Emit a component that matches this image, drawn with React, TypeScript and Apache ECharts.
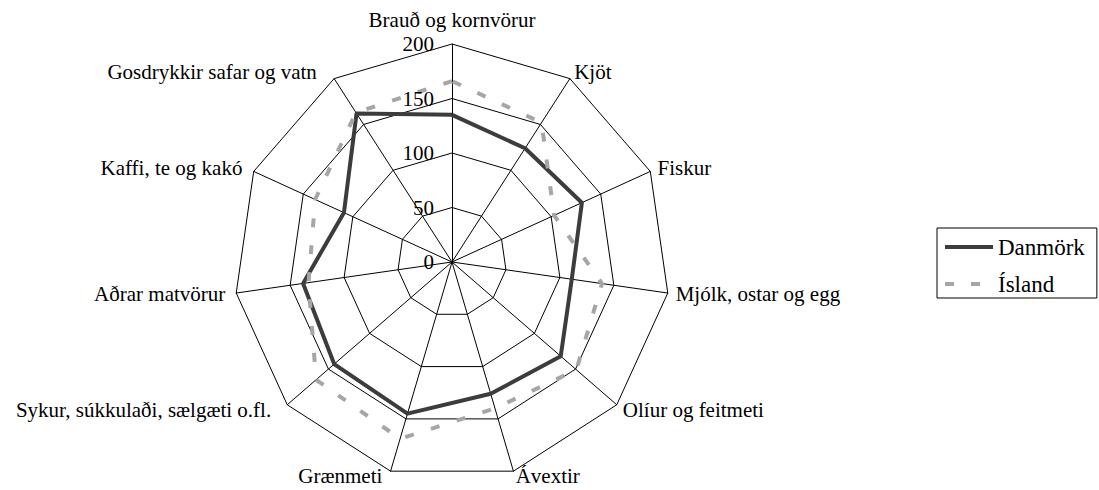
import React, { useEffect, useRef } from "react";
import * as echarts from "echarts";

// Categories in clockwise order starting at the top
const categories: string[] = [
  "Brauð og kornvörur",
  "Kjöt",
  "Fiskur",
  "Mjólk, ostar og egg",
  "Olíur og feitmeti",
  "Ávextir",
  "Grænmeti",
  "Sykur, súkkulaði, sælgæti o.fl.",
  "Aðrar matvörur",
  "Kaffi, te og kakó",
  "Gosdrykkir safar og vatn",
];

const danmork: number[] = [135, 124, 131, 111, 132, 126, 145, 143, 138, 109, 162];
const island: number[] = [166, 152, 103, 139, 151, 140, 169, 165, 133, 138, 163];

const seriesNames: string[] = ["Danmörk", "Ísland"];
const axisMax = 200;
const axisStep = 50;

const FONT = "'Liberation Serif', 'Times New Roman', Times, serif";

// Per-label nudges (padding [top, right, bottom, left]) to mimic the original label placement
const labelPadding: number[][] = [
  [0, 0, 6, 0],
  [0, 0, 0, 0],
  [0, 0, 0, 0],
  [0, 0, 0, 0],
  [0, 0, 0, 0],
  [0, 0, 6, 0],
  [0, 6, 6, 0],
  [0, 10, 0, 0],
  [0, 3, 0, 0],
  [0, 4, 0, 0],
  [0, 13, 0, 0],
];

// ECharts places radar indicators counter-clockwise; reorder to get a clockwise layout.
function clockwise<T>(arr: T[]): T[] {
  return [arr[0], ...arr.slice(1).reverse()];
}

export default function App() {
  const ref = useRef<HTMLDivElement>(null);

  useEffect(() => {
    if (!ref.current) return;
    const chart = echarts.init(ref.current, null, { renderer: "svg" });
    const cx = 452;
    const cy = 262;
    const R = 218;

    const rich: Record<string, any> = {};
    categories.forEach((_, i) => {
      rich["c" + i] = {
        color: "#000",
        fontSize: 21,
        fontFamily: FONT,
        padding: labelPadding[i],
      };
    });

    chart.setOption({
      animation: false,
      backgroundColor: "#ffffff",
      textStyle: { fontFamily: FONT },
      radar: {
        center: [cx, cy],
        radius: R,
        startAngle: 90,
        shape: "polygon",
        splitNumber: axisMax / axisStep,
        indicator: clockwise(categories).map((name) => ({ name, min: 0, max: axisMax })),
        nameGap: 8,
        axisName: {
          color: "#000",
          fontSize: 21,
          fontFamily: FONT,
          formatter: (name: string) => `{c${categories.indexOf(name)}|${name}}`,
          rich,
        },
        axisLine: { lineStyle: { color: "#000", width: 1 } },
        splitLine: { lineStyle: { color: "#000", width: 1 } },
        splitArea: { show: false },
        axisTick: { show: false },
        axisLabel: { show: false },
      },
      grid: {
        left: cx,
        top: cy - R,
        width: 1,
        height: R,
        containLabel: false,
      },
      xAxis: { type: "value", show: false, min: 0, max: 1 },
      yAxis: {
        type: "value",
        min: 0,
        max: axisMax,
        interval: axisStep,
        axisLine: { show: false },
        axisTick: { show: false },
        splitLine: { show: false },
        axisLabel: {
          color: "#000",
          fontSize: 21,
          fontFamily: FONT,
          margin: 18,
        },
        z: 10,
      },
      legend: {
        orient: "vertical",
        left: 937,
        top: 228,
        padding: [7, 12, 2, 8],
        itemWidth: 48,
        itemHeight: 4,
        itemGap: 13,
        borderColor: "#000",
        borderWidth: 1,
        selectedMode: false,
        textStyle: { color: "#000", fontSize: 23, fontFamily: FONT, lineHeight: 24 },
        data: [
          {
            name: seriesNames[0],
            icon: "path://M0,0H48V4H0Z",
            itemStyle: { color: "#3c3c3c", borderWidth: 0 },
          },
          {
            name: seriesNames[1],
            icon: "path://M0,0H9V4H0Z M26,0H35V4H26Z M47.6,0H48V0.02H47.6Z",
            itemStyle: { color: "#a6a6a6", borderWidth: 0 },
          },
        ],
      },
      series: [
        {
          type: "radar",
          symbol: "none",
          data: [
            {
              name: seriesNames[0],
              value: clockwise(danmork),
              lineStyle: { color: "#3c3c3c", width: 4, type: "solid" },
              itemStyle: { color: "#3c3c3c" },
            },
            {
              name: seriesNames[1],
              value: clockwise(island),
              lineStyle: { color: "#a6a6a6", width: 4, type: [9, 18] },
              itemStyle: { color: "#a6a6a6" },
            },
          ],
        },
      ],
    });

    return () => chart.dispose();
  }, []);

  return (
    <div
      ref={ref}
      style={{ position: "fixed", left: 0, top: 0, width: 1099, height: 490, background: "#fff" }}
    />
  );
}
